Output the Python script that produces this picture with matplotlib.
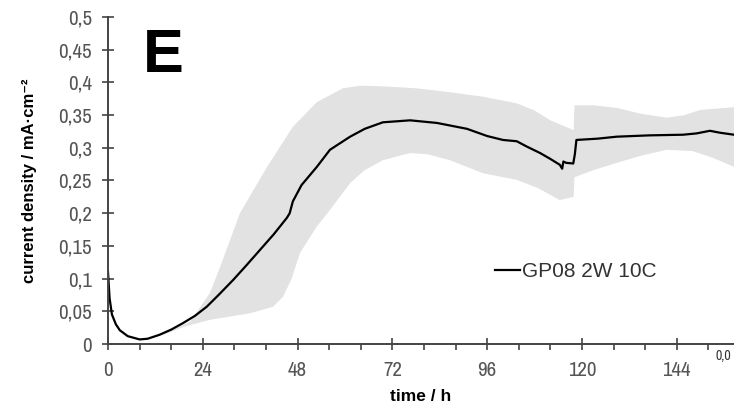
import numpy as np
import matplotlib.pyplot as plt
from matplotlib.ticker import MultipleLocator, FuncFormatter

# mean current density (GP08 2W 10C)
t_line = [0, 0.4, 1, 2, 3, 5, 8, 10, 13, 16, 19, 22, 25, 28, 31.7, 35, 38.5, 42,
          45.3, 46, 46.8, 49, 52.9, 56.2, 61.3, 65, 69.6, 76.5, 83.3, 90.9, 96,
          100, 103.5, 106, 109.4, 112, 114.4, 115, 115.3, 116, 117.8, 118.2,
          118.6, 124, 128.8, 137, 145.6, 149, 152.4, 155, 158.5]
j_line = [0.11, 0.07, 0.045, 0.03, 0.021, 0.012, 0.007, 0.008, 0.014, 0.022,
          0.032, 0.043, 0.057, 0.075, 0.098, 0.12, 0.144, 0.168, 0.193, 0.2,
          0.218, 0.243, 0.271, 0.297, 0.317, 0.329, 0.339, 0.342, 0.338, 0.329,
          0.318, 0.312, 0.310, 0.302, 0.292, 0.283, 0.274, 0.268, 0.279, 0.277,
          0.276, 0.29, 0.312, 0.314, 0.317, 0.319, 0.320, 0.322, 0.326, 0.323,
          0.320]

# spread band
t_up = [11, 15, 20.8, 25.8, 28.4, 33.4, 40.3, 46.8, 52.9, 59.5, 64, 69.6, 78,
        86.6, 95, 103.5, 108, 112, 117.9, 118.1, 123, 128.8, 135, 141.5, 146,
        150, 158.5]
j_up = [0.009, 0.018, 0.034, 0.078, 0.118, 0.200, 0.271, 0.332, 0.370, 0.391,
        0.395, 0.394, 0.391, 0.385, 0.378, 0.368, 0.357, 0.342, 0.327, 0.365,
        0.365, 0.361, 0.352, 0.346, 0.350, 0.358, 0.362]
t_lo = [11, 15, 19, 25.8, 36, 41.8, 44.3, 46.5, 48.6, 52.9, 56.2, 61.3, 65,
        69.6, 76.5, 81, 86.6, 95, 103.5, 109, 114.4, 117.9, 118.1, 123, 128.8,
        135, 141.5, 148, 153, 158.5]
j_lo = [0.009, 0.016, 0.026, 0.037, 0.047, 0.057, 0.072, 0.10, 0.139, 0.180,
        0.205, 0.246, 0.266, 0.281, 0.292, 0.290, 0.281, 0.261, 0.251, 0.238,
        0.220, 0.225, 0.255, 0.266, 0.277, 0.288, 0.297, 0.295, 0.285, 0.271]

narrow = ['Archivo Narrow', 'Liberation Sans', 'DejaVu Sans']
fig = plt.figure(figsize=(7.34, 4.09), dpi=100)
ax = fig.add_axes([108/734, 1-344/409, (734-108)/734, (344-17)/409])

ax.fill(np.r_[t_up, t_lo[::-1]], np.r_[j_up, j_lo[::-1]],
        color='#e2e2e2', lw=0)
ax.plot(t_line, j_line, color='black', lw=1.6, label='GP08 2W 10C')

ax.set_xlim(0, 158.5)
ax.set_ylim(0, 0.5)
for s in ['top', 'right']:
    ax.spines[s].set_visible(False)
for s in ['left', 'bottom']:
    ax.spines[s].set_color('#444444')
    ax.spines[s].set_linewidth(1.4)

ax.xaxis.set_major_locator(MultipleLocator(24))
ax.xaxis.set_minor_locator(MultipleLocator(8))
ax.yaxis.set_major_locator(MultipleLocator(0.05))
fmt = FuncFormatter(lambda v, p: ('%g' % round(v, 3)).replace('.', ','))
ax.xaxis.set_major_formatter(fmt)
ax.yaxis.set_major_formatter(fmt)
ax.tick_params(which='major', direction='inout', length=9, width=1.2,
               color='#444444', labelcolor='#555555', labelsize=15)
ax.tick_params(which='minor', direction='out', length=4, width=1.2,
               color='#444444')
ax.tick_params(axis='y', pad=7)
ax.tick_params(axis='x', pad=8)
for lab in ax.get_xticklabels() + ax.get_yticklabels():
    lab.set_family(narrow)

ax.set_xlabel('time / h', fontsize=12.5, fontweight='bold',
              family='Liberation Sans', labelpad=6)
ax.set_ylabel('current density / mA·cm⁻²', fontsize=12, fontweight='bold',
              family=['Liberation Sans', 'DejaVu Sans'], labelpad=15)

ax.text(143/734, 1-72/409, 'E', transform=fig.transFigure, fontsize=44,
        fontweight='bold', family='Liberation Sans', va='baseline')

ax.legend(loc='upper left', bbox_to_anchor=(495/734, 1-262/409),
          bbox_transform=fig.transFigure, frameon=False, handlelength=1.2,
          handletextpad=0.1, borderpad=0, borderaxespad=0,
          prop={'family': 'Liberation Sans', 'size': 15}, labelcolor='#333333')

fig.text(716/734, 1-360/409, '0,0', fontsize=10, family=narrow, color='#333333')

fig.savefig('out.png', dpi=100)
